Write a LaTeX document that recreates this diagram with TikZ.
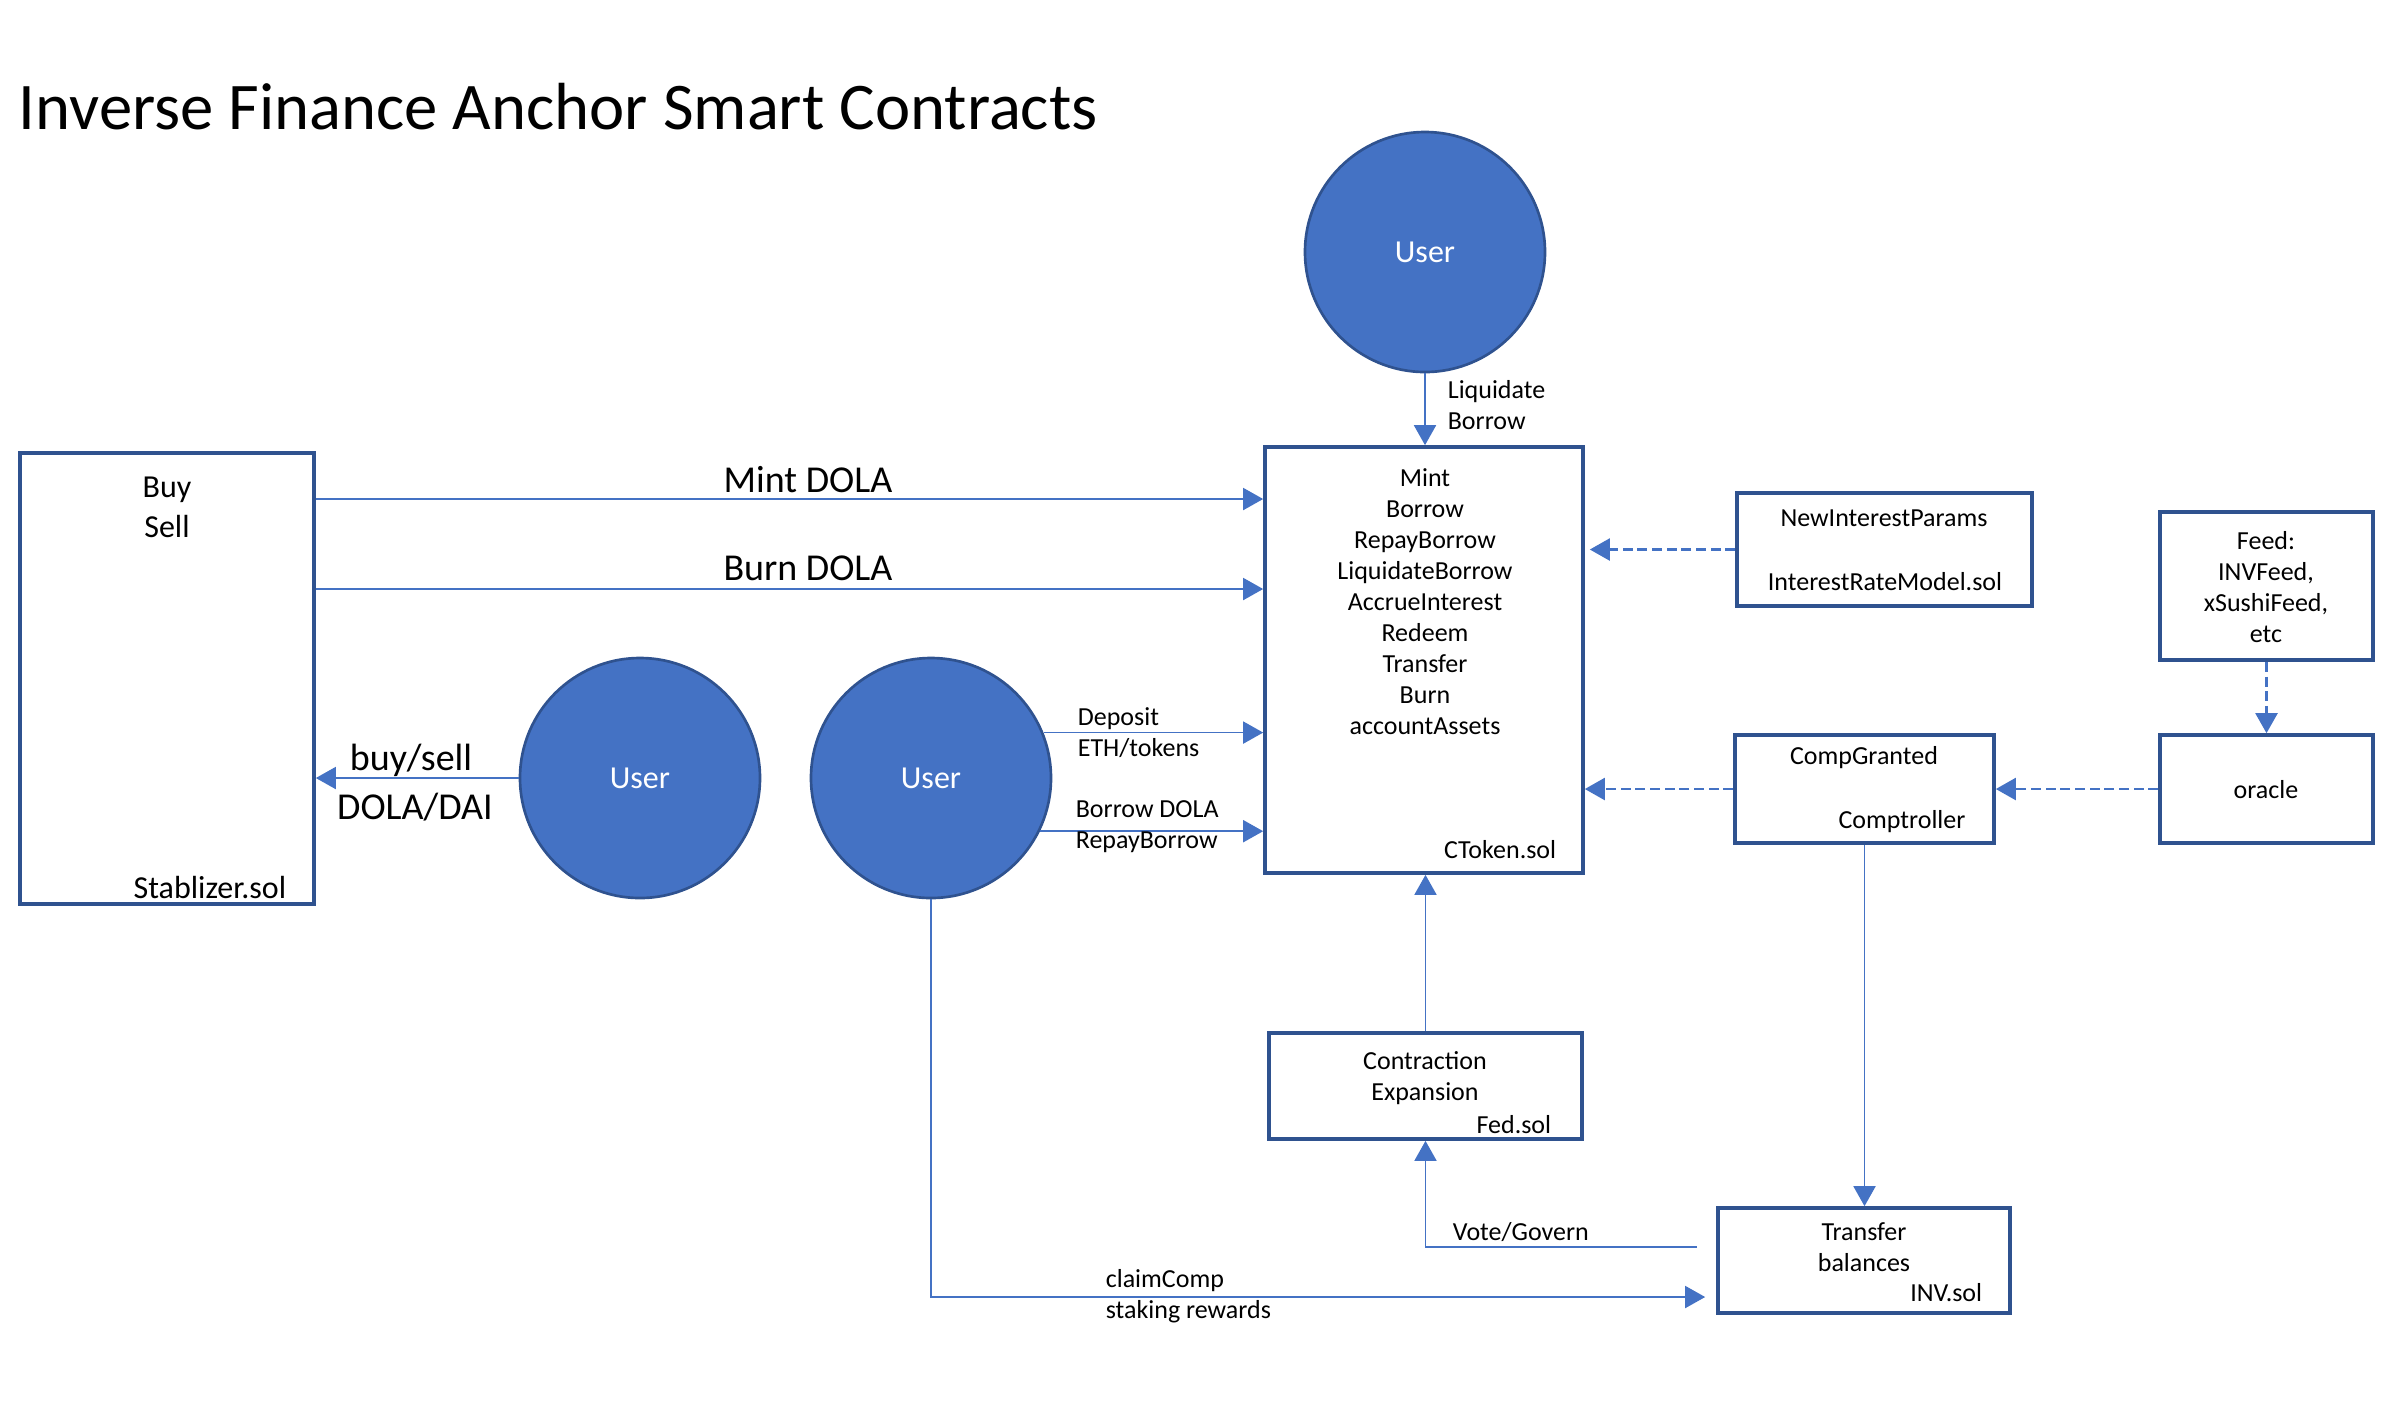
\documentclass[tikz,border=0pt]{standalone}
\usepackage{fontspec}
\setmainfont{Carlito}
\usetikzlibrary{arrows.meta}

\definecolor{officeblue}{RGB}{68,114,196}
\definecolor{edgeblue}{RGB}{47,82,143}

\tikzset{every picture/.style={line width=0.5pt},
  contract/.style={draw=edgeblue, line width=1.1pt, inner sep=0pt},
  user/.style={circle, fill=officeblue, draw=edgeblue, line width=0.8pt, minimum size=72pt, inner sep=0pt, text=white, font=\fontsize{9.6}{11.5}\selectfont},
  flow/.style={draw=officeblue, line width=0.55pt, -{Triangle[length=6pt,width=6.6pt]}},
  feedflow/.style={flow, line width=0.7pt, dash pattern=on 3pt off 1.4pt},
  smalltext/.style={font=\fontsize{7.8}{9.3}\selectfont, inner sep=0pt},
  midtext/.style={font=\fontsize{9.6}{12}\selectfont, inner sep=0pt},
  bigtext/.style={font=\fontsize{11.4}{13.7}\selectfont, inner sep=0pt}
}

\begin{document}
\begin{tikzpicture}[x=0.3pt,y=0.3pt,yscale=-1,xscale=1]
\useasboundingbox (0,0) rectangle (2400,1400);

% Text Node
\draw (18,107) node [anchor=west, inner sep=0pt, font=\fontsize{20}{24}\selectfont] (title) {Inverse Finance Anchor Smart Contracts};

%Shape: Circle
\draw (1425,252) node [user] (usertop) {User};
%Shape: Circle
\draw (640,778) node [user] (userbuy) {User};
%Shape: Circle
\draw (931,778) node [user] (userlend) {User};

%Shape: Rectangle
\draw (167,678.5) node [contract, minimum width=88.2pt, minimum height=135.3pt] (stab) {};
%Shape: Rectangle
\draw (1424,660) node [contract, minimum width=95.4pt, minimum height=127.8pt] (ctok) {};
%Shape: Rectangle
\draw (1884.5,549.5) node [contract, minimum width=88.5pt, minimum height=33.9pt] (irm) {};
%Shape: Rectangle
\draw (2266.5,586) node [contract, minimum width=63.9pt, minimum height=44.4pt] (feed) {};
%Shape: Rectangle
\draw (2266.5,789) node [contract, minimum width=63.9pt, minimum height=32.4pt] (oracle) {};
%Shape: Rectangle
\draw (1864.5,789) node [contract, minimum width=77.7pt, minimum height=32.4pt] (comp) {};
%Shape: Rectangle
\draw (1425.5,1086) node [contract, minimum width=93.9pt, minimum height=31.8pt] (fed) {};
%Shape: Rectangle
\draw (1864,1260.5) node [contract, minimum width=87.6pt, minimum height=31.5pt] (inv) {};

%Straight Lines
\draw [flow] (usertop.south) -- (usertop.south |- ctok.north);
%Straight Lines
\draw [flow] ([yshift=-53.85pt]stab.east) -- ([yshift=-53.85pt]stab.east -| ctok.west);
%Straight Lines
\draw [flow] ([yshift=-26.85pt]stab.east) -- ([yshift=-26.85pt]stab.east -| ctok.west);
%Straight Lines
\draw [flow] (userbuy.west) -- (userbuy.west -| stab.east);
%Straight Lines
\draw [flow] (userlend.22) -- (userlend.22 -| ctok.west);
%Straight Lines
\draw [flow] (userlend.-26) -- (userlend.-26 -| ctok.west);
%Straight Lines
\draw [flow, shorten >=3.3pt] (userlend.south) |- ([yshift=10.95pt]inv.west);
%Straight Lines
\draw [flow] ([xshift=-5.7pt,yshift=-4pt]inv.west) -| (fed.south);
%Straight Lines
\draw [flow] (fed.north) -- (fed.north |- ctok.south);
%Straight Lines
\draw [flow] (comp.south) -- (comp.south |- inv.north);
%Straight Lines
\draw [feedflow, shorten >=1.5pt] (irm.west) -- (irm.west -| ctok.east);
%Straight Lines
\draw [feedflow] (comp.west) -- (comp.west -| ctok.east);
%Straight Lines
\draw [feedflow] (oracle.west) -- (comp.east);
%Straight Lines
\draw [feedflow] (feed.south) -- (oracle.north);

% Text Node
\draw (167,507) node [midtext, align=center] {Buy\\Sell};
% Text Node
\draw (287,887) node [midtext, anchor=east] {Stablizer.sol};
% Text Node
\draw (808,480) node [bigtext] {Mint DOLA};
% Text Node
\draw (808,568) node [bigtext] {Burn DOLA};
% Text Node
\draw (411,760) node [bigtext] {buy/sell};
% Text Node
\draw (415,807) node [bigtext] {DOLA/DAI};
% Text Node
\draw (1447,405) node [smalltext, anchor=west, align=left] {Liquidate\\Borrow};
% Text Node
\draw (1425,602) node [smalltext, align=center] {Mint\\Borrow\\RepayBorrow\\LiquidateBorrow\\AccrueInterest\\Redeem\\Transfer\\Burn\\accountAssets};
% Text Node
\draw (1557,850) node [smalltext, anchor=east] {CToken.sol};
% Text Node
\draw (1077,733) node [smalltext, anchor=west, align=left] {Deposit\\ETH/tokens};
% Text Node
\draw (1075,827) node [smalltext, anchor=west, align=left] {Borrow DOLA\\RepayBorrow};
% Text Node
\draw (1105,1296) node [smalltext, anchor=west, align=left] {claimComp\\staking rewards};
% Text Node
\draw (1452,1232) node [smalltext, anchor=west] {Vote/Govern};
% Text Node
\draw (1884,518) node [smalltext] {NewInterestParams};
% Text Node
\draw (1885,582) node [smalltext] {InterestRateModel.sol};
% Text Node
\draw (2266,587) node [smalltext, align=center] {Feed:\\INVFeed,\\xSushiFeed,\\etc};
% Text Node
\draw (2266,790) node [smalltext] {oracle};
% Text Node
\draw (1864,758) node [smalltext] {CompGranted};
% Text Node
\draw (1902,822) node [smalltext] {Comptroller};
% Text Node
\draw (1425,1078) node [smalltext, align=center] {Contraction\\Expansion};
% Text Node
\draw (1552,1125) node [smalltext, anchor=east] {Fed.sol};
% Text Node
\draw (1864,1247) node [smalltext, align=center] {Transfer\\balances};
% Text Node
\draw (1983,1293) node [smalltext, anchor=east] {INV.sol};

\end{tikzpicture}
\end{document}
